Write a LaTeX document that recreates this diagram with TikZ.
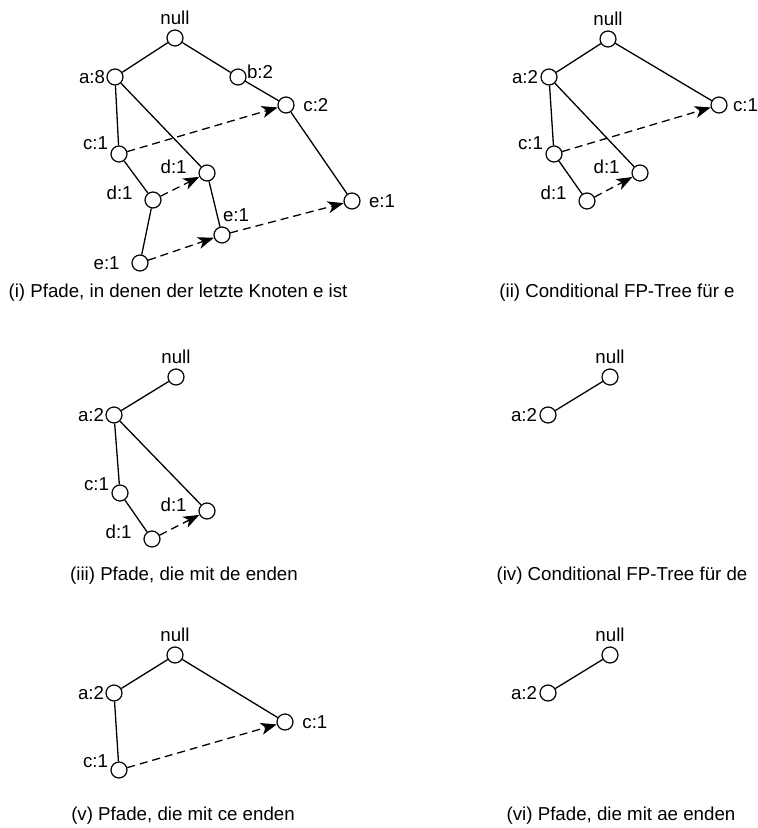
\documentclass[tikz,border=0pt]{standalone}
\usepackage{fontspec}
\setmainfont{Liberation Sans}
\usepackage{tikz}
\usetikzlibrary{arrows.meta}

\begin{document}
\begin{tikzpicture}[x=0.5pt, y=-0.5pt,
    every node/.style={font=\fontsize{9.35pt}{11pt}\selectfont},
    knoten/.style={circle, draw, line width=0.6pt, fill=white, minimum size=8pt, inner sep=0pt},
    lbl/.style={inner sep=1pt},
    kante/.style={line width=0.65pt},
    pfeil/.style={-{Stealth[length=8pt, width=6pt, inset=2.2pt]}, line width=0.65pt,
      dash pattern=on 4pt off 2.5pt}]
    \useasboundingbox (0,0) rectangle (757,828);
    % (i)
    \node[knoten, label={[lbl, label distance=1.3pt]above:{null}}] (in) at (175,38) {};
    \node[knoten, label={[lbl, label distance=-0.5pt]left:{a:8}}] (ia) at (115,77) {};
    \node[knoten, label={[lbl, label distance=-1pt, yshift=2.5pt]right:{b:2}}] (ib) at (238,77) {};
    \node[knoten, label={[lbl, label distance=3.2pt]right:{c:2}}] (ic2) at (286,105) {};
    \node[knoten, label={[lbl, label distance=0pt, yshift=5.5pt]left:{c:1}}] (ic) at (119,154) {};
    \node[knoten, label={[lbl, label distance=4.7pt, yshift=3.5pt]left:{d:1}}] (idl) at (153,200) {};
    \node[knoten, label={[lbl, label distance=4.7pt, yshift=3pt]left:{d:1}}] (idr) at (207,173) {};
    \node[knoten, label={[lbl, label distance=1.3pt, xshift=7pt]above:{e:1}}] (iem) at (222,235) {};
    \node[knoten, label={[lbl, label distance=3pt]right:{e:1}}] (ier) at (352,201) {};
    \node[knoten, label={[lbl, label distance=4.7pt]left:{e:1}}] (ieb) at (140,263) {};
    \draw[kante] (in)--(ia); \draw[kante] (in)--(ib); \draw[kante] (ib)--(ic2);
    \draw[kante] (ic2)--(ier); \draw[kante] (ia)--(ic); \draw[kante] (ia)--(idr);
    \draw[kante] (ic)--(idl); \draw[kante] (idl)--(ieb); \draw[kante] (idr)--(iem);
    \draw[pfeil] (ic)--(ic2); \draw[pfeil] (idl)--(idr);
    \draw[pfeil] (ieb)--(iem); \draw[pfeil] (iem)--(ier);
    \node (capi) at (178,293) {(i) Pfade, in denen der letzte Knoten e ist};
    % (ii)
    \node[knoten, label={[lbl, label distance=1.3pt]above:{null}}] (iin) at (608,39) {};
    \node[knoten, label={[lbl, label distance=0pt]left:{a:2}}] (iia) at (549,77) {};
    \node[knoten, label={[lbl, label distance=1.5pt]right:{c:1}}] (iicr) at (719,105) {};
    \node[knoten, label={[lbl, label distance=0pt, yshift=5.5pt]left:{c:1}}] (iic) at (554,154) {};
    \node[knoten, label={[lbl, label distance=4.7pt, yshift=3pt]left:{d:1}}] (iidr) at (640,173) {};
    \node[knoten, label={[lbl, label distance=4.7pt, yshift=4pt]left:{d:1}}] (iidl) at (587,201) {};
    \draw[kante] (iin)--(iia); \draw[kante] (iin)--(iicr); \draw[kante] (iia)--(iic);
    \draw[kante] (iia)--(iidr); \draw[kante] (iic)--(iidl);
    \draw[pfeil] (iic)--(iicr); \draw[pfeil] (iidl)--(iidr);
    \node (capii) at (617,293) {(ii) Conditional FP-Tree für e};
    % (iii)
    \node[knoten, label={[lbl, label distance=1.3pt]above:{null}}] (iiin) at (176,377) {};
    \node[knoten, label={[lbl, label distance=-0.5pt]left:{a:2}}] (iiia) at (114,415) {};
    \node[knoten, label={[lbl, label distance=0pt, yshift=4.5pt]left:{c:1}}] (iiic) at (120,493) {};
    \node[knoten, label={[lbl, label distance=4.7pt, yshift=3pt]left:{d:1}}] (iiidr) at (207,511) {};
    \node[knoten, label={[lbl, label distance=4.7pt, yshift=3.5pt]left:{d:1}}] (iiidl) at (152,539) {};
    \draw[kante] (iiin)--(iiia); \draw[kante] (iiia)--(iiic); \draw[kante] (iiia)--(iiidr);
    \draw[kante] (iiic)--(iiidl);
    \draw[pfeil] (iiidl)--(iiidr);
    \node (capiii) at (184,576) {(iii) Pfade, die mit de enden};
    % (iv)
    \node[knoten, label={[lbl, label distance=1.3pt]above:{null}}] (ivn) at (610,377) {};
    \node[knoten, label={[lbl, label distance=0pt]left:{a:2}}] (iva) at (548,415) {};
    \draw[kante] (ivn)--(iva);
    \node (capiv) at (622,576) {(iv) Conditional FP-Tree für de};
    % (v)
    \node[knoten, label={[lbl, label distance=1.3pt]above:{null}}] (vn) at (175,655) {};
    \node[knoten, label={[lbl, label distance=-0.5pt]left:{a:2}}] (va) at (114,693) {};
    \node[knoten, label={[lbl, label distance=3.2pt]right:{c:1}}] (vcr) at (285,722) {};
    \node[knoten, label={[lbl, label distance=0pt, yshift=4.5pt]left:{c:1}}] (vc) at (119,770) {};
    \draw[kante] (vn)--(va); \draw[kante] (vn)--(vcr); \draw[kante] (va)--(vc);
    \draw[pfeil] (vc)--(vcr);
    \node (capv) at (183,816) {(v) Pfade, die mit ce enden};
    % (vi)
    \node[knoten, label={[lbl, label distance=1.3pt]above:{null}}] (vin) at (610,655) {};
    \node[knoten, label={[lbl, label distance=0pt]left:{a:2}}] (via) at (548,693) {};
    \draw[kante] (vin)--(via);
    \node (capvi) at (621,816) {(vi) Pfade, die mit ae enden};
\end{tikzpicture}
\end{document}
